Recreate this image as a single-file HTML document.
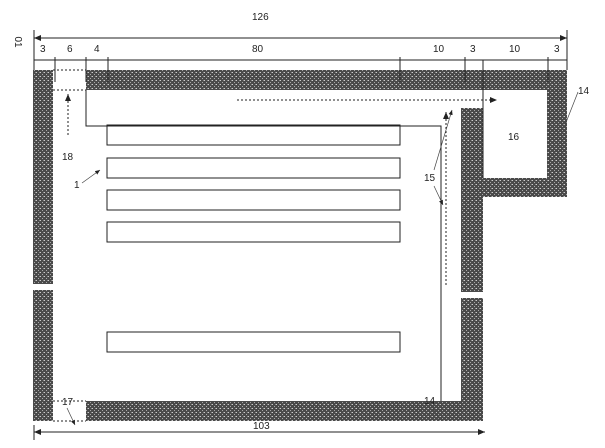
<!DOCTYPE html>
<html><head><style>
html,body{margin:0;padding:0;background:#fff;}
svg{display:block;}
text{font-family:"Liberation Sans",sans-serif;font-size:10px;fill:#222;}
</style></head><body>
<svg width="605" height="448" viewBox="0 0 605 448" xmlns="http://www.w3.org/2000/svg">
<defs>
<pattern id="h" width="4" height="4" patternUnits="userSpaceOnUse">
<rect width="4" height="4" fill="#4a4a4a"/>
<rect x="0" y="0" width="1" height="1" fill="#ccc"/>
<rect x="2" y="2" width="1" height="1" fill="#aaa"/>
<rect x="3" y="0" width="1" height="1" fill="#888"/>
</pattern>
<marker id="a" markerWidth="8" markerHeight="8" refX="7" refY="4" orient="auto"><path d="M0,1 L7,4 L0,7z" fill="#222"/></marker>
</defs>
<g fill="url(#h)">
<rect x="33" y="70" width="20" height="214"/>
<rect x="33" y="290" width="20" height="131"/>
<rect x="86" y="70" width="481" height="20"/>
<rect x="547" y="70" width="20" height="127"/>
<rect x="461" y="178" width="106" height="19"/>
<rect x="461" y="108" width="22" height="184"/>
<rect x="461" y="298" width="22" height="123"/>
<rect x="86" y="401" width="397" height="20"/>
</g>
<g stroke="#222" stroke-width="1" fill="none">
<path d="M86,90 V126 H441 V401"/>
<line x1="483" y1="60" x2="483" y2="178"/>
<rect x="107" y="125" width="293" height="20"/>
<rect x="107" y="158" width="293" height="20"/>
<rect x="107" y="190" width="293" height="20"/>
<rect x="107" y="222" width="293" height="20"/>
<rect x="107" y="332" width="293" height="20"/>
<line x1="34" y1="38" x2="567" y2="38" marker-end="url(#a)"/>
<line x1="567" y1="38" x2="34" y2="38" marker-end="url(#a)"/>
<line x1="34" y1="30" x2="34" y2="70"/>
<line x1="567" y1="30" x2="567" y2="70"/>
<line x1="34" y1="60" x2="567" y2="60"/>
<g>
<line x1="55" y1="57" x2="55" y2="82"/>
<line x1="86" y1="57" x2="86" y2="82"/>
<line x1="108" y1="57" x2="108" y2="82"/>
<line x1="400" y1="57" x2="400" y2="82"/>
<line x1="465" y1="57" x2="465" y2="82"/>
<line x1="548" y1="57" x2="548" y2="82"/>
</g>
<line x1="34" y1="432" x2="485" y2="432" marker-end="url(#a)"/>
<line x1="485" y1="432" x2="34" y2="432" marker-end="url(#a)"/>
<line x1="34" y1="425" x2="34" y2="440"/>
</g>
<g stroke="#222" stroke-dasharray="2,2" fill="none">
<line x1="237" y1="100" x2="497" y2="100" marker-end="url(#a)"/>
<line x1="446" y1="285" x2="446" y2="112" marker-end="url(#a)"/>
<line x1="53" y1="70" x2="86" y2="70"/>
<line x1="53" y1="90" x2="86" y2="90"/>
<line x1="68" y1="135" x2="68" y2="94" marker-end="url(#a)"/>
<line x1="53" y1="401" x2="86" y2="401"/>
<line x1="53" y1="421" x2="86" y2="421"/>
</g>
<g stroke="#444" stroke-width="0.7" fill="none">
<line x1="82" y1="183" x2="100" y2="170" marker-end="url(#a)"/>
<line x1="434" y1="170" x2="452" y2="110" marker-end="url(#a)"/>
<line x1="434" y1="186" x2="443" y2="205" marker-end="url(#a)"/>
<line x1="578" y1="92" x2="565" y2="125"/>
<line x1="67" y1="408" x2="75" y2="425" marker-end="url(#a)"/>
<line x1="430" y1="403" x2="440" y2="420"/>
</g>
<text x="252" y="20">126</text>
<text x="40" y="52">3</text>
<text x="67" y="52">6</text>
<text x="94" y="52">4</text>
<text x="252" y="52">80</text>
<text x="433" y="52">10</text>
<text x="470" y="52">3</text>
<text x="509" y="52">10</text>
<text x="554" y="52">3</text>
<text x="15" y="42" transform="rotate(90 15 42)" text-anchor="middle">01</text>
<text x="578" y="94">14</text>
<text x="508" y="140">16</text>
<text x="424" y="181">15</text>
<text x="62" y="160">18</text>
<text x="74" y="188">1</text>
<text x="62" y="405">17</text>
<text x="424" y="404">14</text>
<text x="253" y="429">103</text>
</svg>
</body></html>
